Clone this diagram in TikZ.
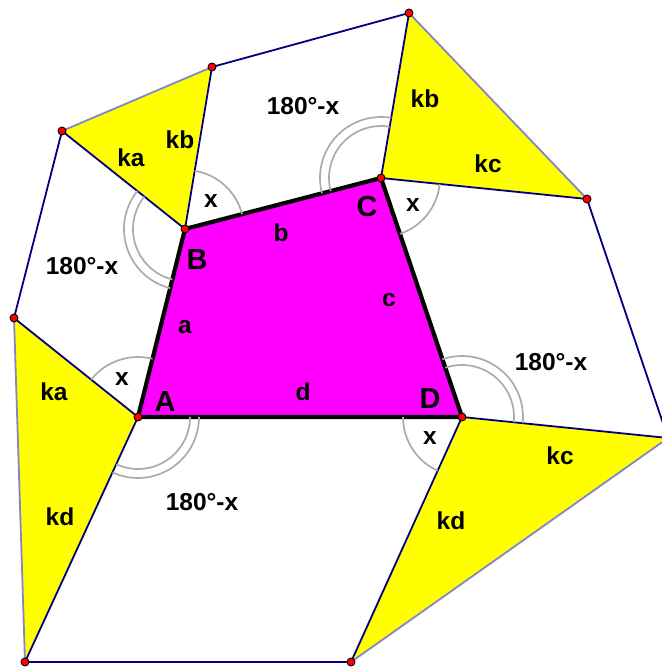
\documentclass[tikz,border=0pt]{standalone}
\usepackage{fontspec}
\setmainfont{Liberation Sans}
\usetikzlibrary{angles}
\definecolor{QuadFill}{HTML}{FF00FF}
\definecolor{TriFill}{HTML}{FFFF00}
\definecolor{EdgeBlue}{HTML}{000080}
\definecolor{EdgeLight}{HTML}{8484C8}
\definecolor{ArcGray}{HTML}{ABABAB}
\definecolor{DotRed}{HTML}{FF0000}

\begin{document}
\begin{tikzpicture}[
  x=1pt,y=-1pt,
  side/.style={draw=EdgeBlue,line width=1.8pt},
  base/.style={draw=EdgeLight,line width=1.8pt},
  tri/.style={fill=TriFill},
  quad/.style={fill=QuadFill},
  rim/.style={draw=black,line width=4.2pt,line join=miter},
  arcline/.style={draw=ArcGray,line width=1.7pt},
  dot/.style={circle,draw=black,fill=DotRed,line width=0.9pt,minimum size=8pt,inner sep=0pt},
  lab/.style={inner sep=0pt,font=\bfseries\fontsize{24.5}{27}\selectfont},
  vlab/.style={inner sep=0pt,font=\bfseries\fontsize{29}{32}\selectfont}
]
\useasboundingbox (0,0) rectangle (661,669);

% Points.
\coordinate (A) at (138,417);
\coordinate (B) at (185,229);
\coordinate (C) at (381,178);
\coordinate (D) at (462,417);
\coordinate (Ba) at (62,131);
\coordinate (Bb) at (212,67);
\coordinate (Cb) at (409,13);
\coordinate (Cc) at (587,199);
\coordinate (Dc) at (668,438);
\coordinate (Dd) at (351,662);
\coordinate (Ad) at (25,662);
\coordinate (Aa) at (14,318);

% Fills.
\fill[tri] (B) -- (Ba) -- (Bb) -- cycle;
\fill[tri] (C) -- (Cb) -- (Cc) -- cycle;
\fill[tri] (D) -- (Dc) -- (Dd) -- cycle;
\fill[tri] (A) -- (Ad) -- (Aa) -- cycle;
\fill[quad] (A) -- (B) -- (C) -- (D) -- cycle;

% Parallelograms.
\draw[side] (A) -- (Aa) -- (Ba) -- (B);
\draw[side] (B) -- (Bb) -- (Cb) -- (C);
\draw[side] (C) -- (Cc) -- (Dc) -- (D);
\draw[side] (D) -- (Dd) -- (Ad) -- (A);

% Triangle bases.
\draw[base] (Ba) -- (Bb);
\draw[base] (Cb) -- (Cc);
\draw[base] (Dc) -- (Dd);
\draw[base] (Ad) -- (Aa);

% Quadrilateral.
\draw[rim] (A) -- (B) -- (C) -- (D) -- cycle;

% Angles.
\pic[arcline,angle radius=59pt] {angle=C--B--Bb};
\pic[arcline,angle radius=59pt] {angle=D--C--Cc};
\pic[arcline,angle radius=60pt] {angle=B--A--Aa};
\pic[arcline,angle radius=59pt] {angle=A--D--Dd};
\foreach \p/\v/\q in {Ba/B/A,Cb/C/B,Dc/D/C,Ad/A/D}{
  \pic[arcline,angle radius=52pt] {angle=\p--\v--\q};
  \pic[arcline,angle radius=61pt] {angle=\p--\v--\q};
}

% Dots.
\foreach \p in {A,B,C,D,Ba,Bb,Cb,Cc,Dc,Dd,Ad,Aa}
  \node[dot] (\p-dot) at (\p) {};

% Labels.
\node[vlab] (lA) at (165,402) {A};
\node[vlab] (lB) at (197,260) {B};
\node[vlab] (lC) at (367,207) {C};
\node[vlab] (lD) at (430,399) {D};
\node[lab] (la) at (185,327) {a};
\node[lab] (lb) at (281,233) {b};
\node[lab] (lc) at (389,300) {c};
\node[lab] (ld) at (303,392) {d};
\foreach \n/\x/\y/\t in {xb/211/201/x,xc/413/205/x,xa/122/379/x,xd/430/438/x,
  ka1/131/158/ka,kb1/180/140/kb,kb2/425/99/kb,kc2/488/164/kc,
  kc3/560/456/kc,kd3/451/521/kd,kd4/60/517/kd,ka4/54/392/ka,
  sb/303/106/180°-x,sa/82/266/180°-x,sd/202/502/180°-x,sc/551/362/180°-x}
  \node[lab] (\n) at (\x,\y) {\t};
\end{tikzpicture}
\end{document}
